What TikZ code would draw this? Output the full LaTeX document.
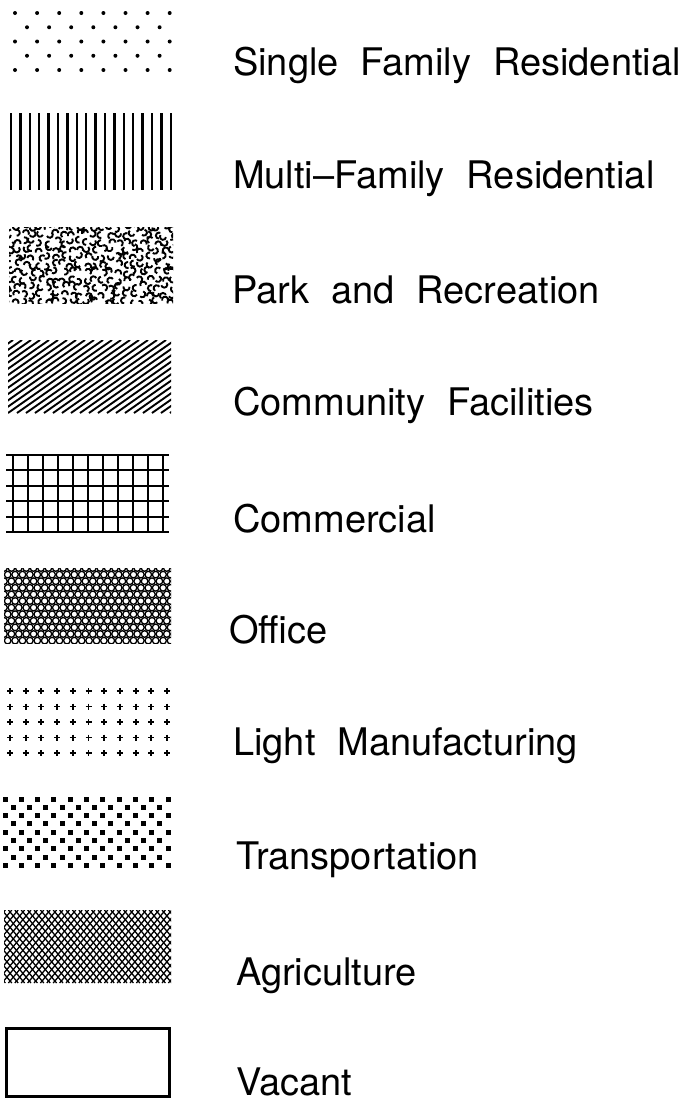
\documentclass[tikz,border=0pt]{standalone}
\usepackage{fontspec}
\setmainfont{TeX Gyre Heros}
\usepackage{tikz}
\tikzset{
  landuse/.style={anchor=base west, inner sep=0pt,
    font={\fontsize{38}{40}\selectfont\spaceskip=22pt\relax}},
  hatch/.style={line width=1.9pt},
  grid line/.style={line width=2pt},
  dot/.style={fill=black}
}

\begin{document}
\begin{tikzpicture}[x=1pt,y=-1pt]
  \useasboundingbox (0,0) rectangle (687,1101);

  % single family: staggered dots
  \foreach \j in {0,2,4}
    \foreach \k in {0,...,7}
      \fill[dot] (15+22.1*\k,13+14.25*\j) circle (2);
  \foreach \j in {1,3}
    \foreach \k in {0,...,6}
      \fill[dot] (27+22.1*\k,13+14.25*\j) circle (2);
  \node[landuse] (single) at (233,75) {Single Family Residential};

  % multi family: vertical rules
  \foreach \k in {0,...,17}
    \draw[line width=2.3pt] (11+9.4*\k,113) -- (11+9.4*\k,190);
  \node[landuse] (multi) at (233,188) {Multi--Family Residential};

  % park: scattered little arcs
  \pgfmathsetseed{7}
  \begin{scope}
    \clip (9,227) rectangle (173,303);
    \foreach \k in {0,...,21}
      \foreach \j in {0,...,10} {
        \pgfmathsetmacro\px{9+7.8*\k+2.5*rand}
        \pgfmathsetmacro\py{227+7.5*\j+2.5*rand}
        \pgfmathsetmacro\pa{180*rand}
        \draw[hatch] (\px,\py) ++(\pa:3) arc[start angle=\pa, delta angle=210, radius=3];
      }
  \end{scope}
  \node[landuse] (park) at (232,303) {Park and Recreation};

  % community facilities: single hatching
  \begin{scope}
    \clip (8,340) rectangle (171,413);
    \foreach \k in {0,...,30}
      \draw[hatch] (-100+9*\k,413) -- (104-100+9*\k,340);
  \end{scope}
  \node[landuse] (community) at (233,415) {Community Facilities};

  % commercial: square grid
  \foreach \k in {0,...,10}
    \draw[grid line] (13+15*\k,455) -- (13+15*\k,532);
  \foreach \j in {0,...,5}
    \draw[grid line] (6,455+15.4*\j) -- (169,455+15.4*\j);
  \node[landuse] (commercial) at (233,532) {Commercial};

  % office: packed rings
  \begin{scope}
    \clip (4,568) rectangle (171,643);
    \foreach \j in {0,...,11}
      \foreach \k in {0,...,23} {
        \pgfmathsetmacro\ox{4+7.4*\k+3.7*mod(\j,2)}
        \draw[line width=1.3pt] (\ox,568+6.6*\j) circle (3.3);
      }
  \end{scope}
  \node[landuse] (office) at (229,643) {Office};

  % light manufacturing: crosses
  \foreach \j in {0,...,4}
    \foreach \k in {0,...,10}
      \draw[line width=1.9pt] (10+15.7*\k-3,691+15.5*\j) -- ++(6,0)
        (10+15.7*\k,691+15.5*\j-3) -- ++(0,6);
  \node[landuse] (light) at (233,755) {Light Manufacturing};

  % transportation: staggered squares
  \foreach \j in {0,...,8}
    \foreach \k in {0,...,10} {
      \pgfmathsetmacro\sx{5+16.3*\k+8.1*mod(\j,2)}
      \ifdim \sx pt<172pt
        \fill[dot] (\sx-2.5,799+8.3*\j-2.5) rectangle ++(5,5);
      \fi
    }
  \node[landuse] (transport) at (236,869) {Transportation};

  % agriculture: cross hatching
  \begin{scope}
    \clip (4,910) rectangle (171,983);
    \foreach \k in {0,...,36} {
      \draw[line width=1.3pt] (-62+6.4*\k,983) -- ++(61,-73);
      \draw[line width=1.3pt] (-62+6.4*\k,910) -- ++(61,73);
    }
  \end{scope}
  \node[landuse] (agri) at (236,985) {Agriculture};

  % vacant: empty box
  \draw[line width=3pt] (6,1028) rectangle (169,1096);
  \node[landuse] (vacant) at (236,1095) {Vacant};
\end{tikzpicture}
\end{document}
